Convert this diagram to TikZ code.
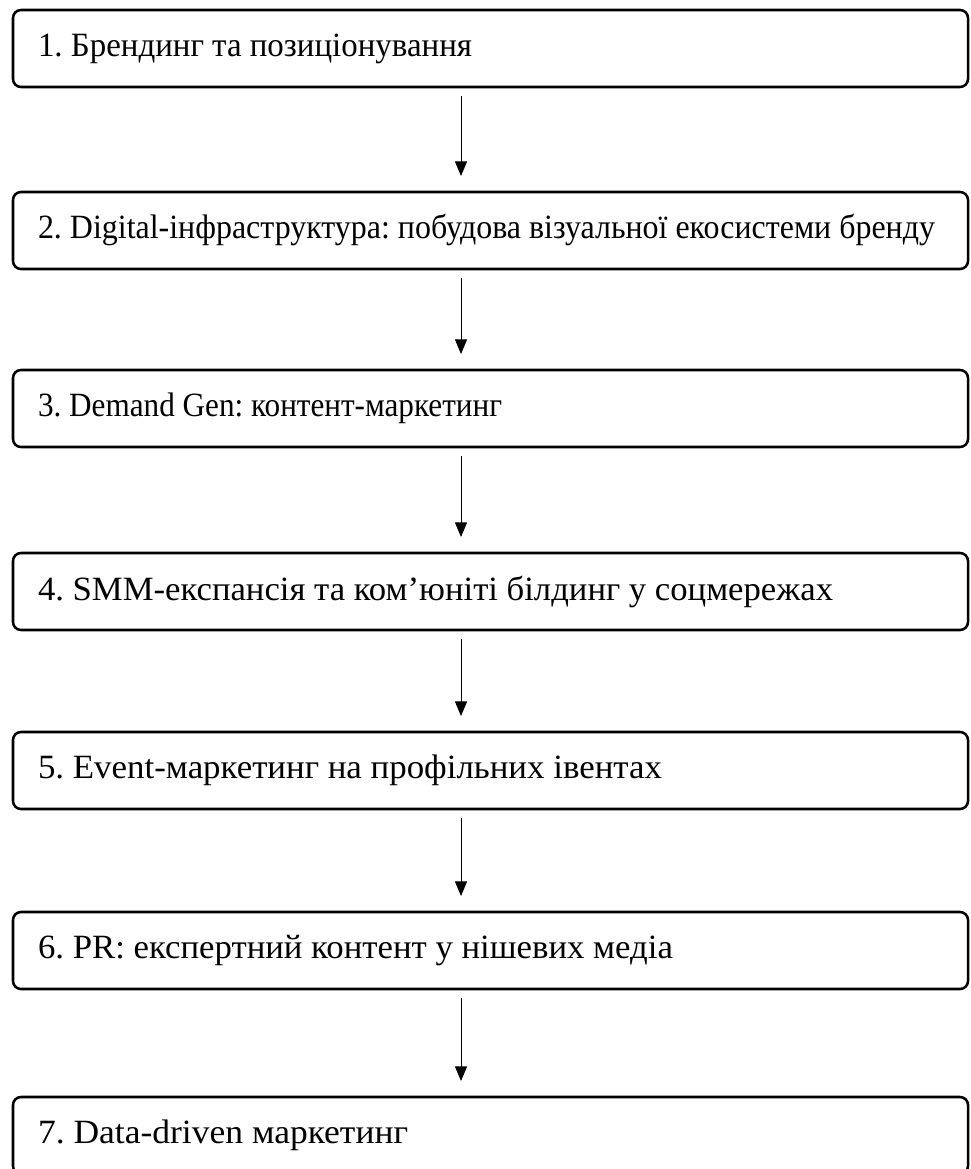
\documentclass[tikz,border=0pt]{standalone}
\usepackage{fontspec}
\usepackage{graphicx}
\setmainfont{Liberation Serif}
\usetikzlibrary{arrows.meta}
\newcommand{\stagetext}[2]{\makebox[678.75pt][l]{\resizebox{#1}{\height}{\frenchspacing #2}}}
\begin{document}
\begin{tikzpicture}[x=0.75pt,y=-0.75pt,
  stagebox/.style={draw=black,line width=1.9pt,rounded corners=6pt,
    inner xsep=18.75pt,inner ysep=0pt,
    minimum height=57.75pt,font=\fontsize{25.5}{30}\selectfont},
  flowarrow/.style={-{Triangle[width=9pt,length=11pt]},line width=0.75pt,
    shorten <=6pt,shorten >=11pt}]
\useasboundingbox (0,0) rectangle (970,1169);
\clip (0,0) rectangle (970,1169);
\node[stagebox] (b1) at (490.5,48.5) {\stagetext{325.5pt}{1. Брендинг та позиціонування}};
\node[stagebox] (b2) at (490.5,230.5) {\stagetext{672.75pt}{2. Digital-інфраструктура: побудова візуальної екосистеми бренду}};
\node[stagebox] (b3) at (490.5,408.5) {\stagetext{348pt}{3. Demand Gen: контент-маркетинг}};
\node[stagebox] (b4) at (490.5,591.5) {\stagetext{596.25pt}{4. SMM-експансія та ком’юніті білдинг у соцмережах}};
\node[stagebox] (b5) at (490.5,770.5) {\stagetext{468pt}{5. Event-маркетинг на профільних івентах}};
\node[stagebox] (b6) at (490.5,950.5) {\stagetext{476.25pt}{6. PR: експертний контент у нішевих медіа}};
\node[stagebox] (b7) at (490.5,1135.5) {\stagetext{277.5pt}{7. Data-driven маркетинг}};
\coordinate (ax) at (461,0);
\foreach \a/\b in {b1/b2,b2/b3,b3/b4,b4/b5,b5/b6,b6/b7}{
  \draw[flowarrow] (\a.south -| ax) -- (\b.north -| ax);
}
\end{tikzpicture}
\end{document}
